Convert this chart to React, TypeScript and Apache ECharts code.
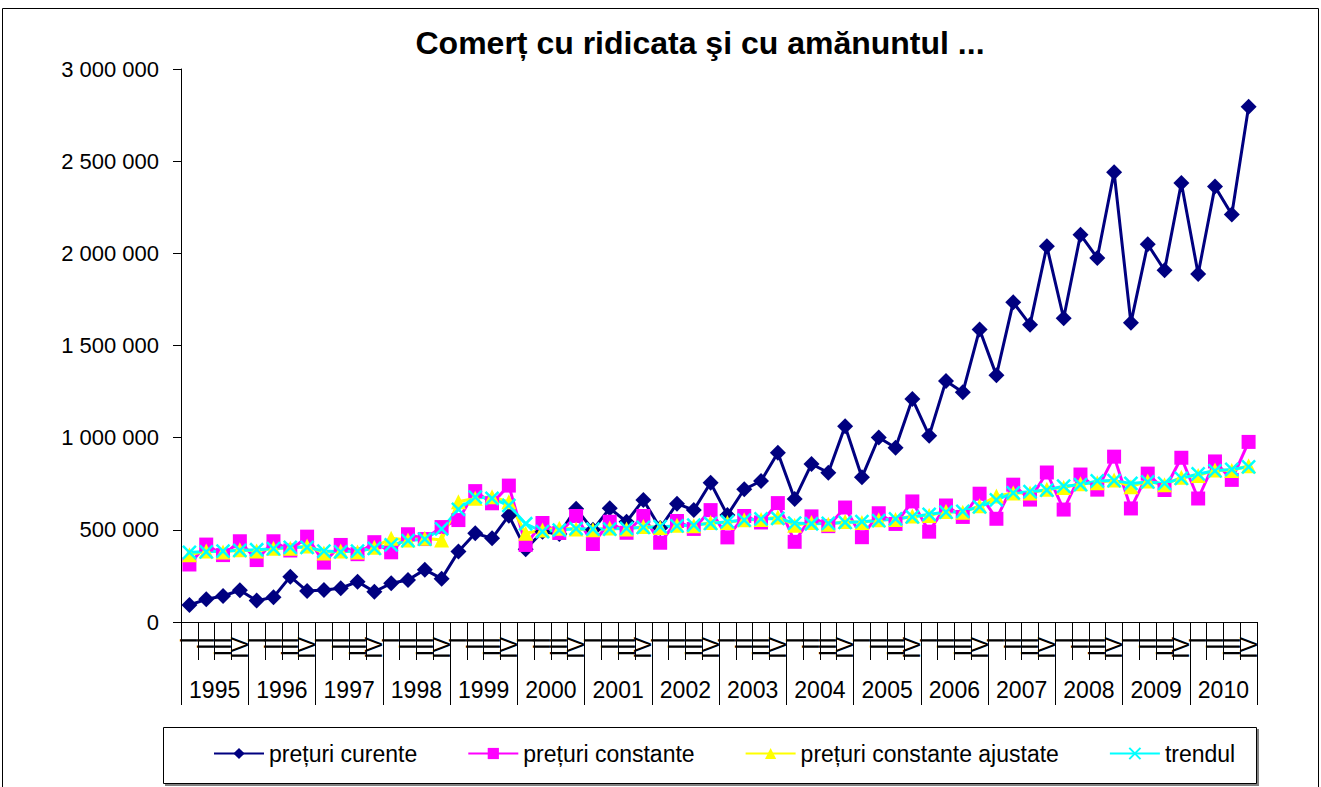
import React, { useEffect, useRef } from "react";
import * as echarts from "echarts";

const years = ["1995","1996","1997","1998","1999","2000","2001","2002","2003","2004","2005","2006","2007","2008","2009","2010"];
const quarterNames = ["I", "II", "III", "IV"];

// values in thousands (lei)
const preturiCurente = [
  92,123,141,172, 116,134,246,168, 174,183,219,164, 210,228,284,235,
  382,481,454,577, 395,490,478,615, 500,617,544,662, 510,642,607,755,
  580,720,765,918, 667,857,810,1062, 785,1001,945,1210, 1011,1308,1246,1587,
  1338,1734,1613,2038, 1648,2101,1975,2440, 1623,2049,1908,2382, 1888,2362,2211,2795,
];
const preturiConstante = [
  312,420,363,438, 336,438,388,463, 322,418,368,433, 378,476,450,515,
  553,710,644,740, 418,537,483,575, 423,544,484,575, 430,548,505,607,
  459,575,540,645, 435,573,520,621, 460,590,532,654, 490,632,570,696,
  560,745,664,811, 610,800,718,897, 616,805,716,891, 670,871,771,977,
];
const preturiConstanteAjustate = [
  365,385,380,392, 385,400,400,412, 375,385,380,405, 454,445,454,445,
  652,671,680,652, 481,499,508,505, 500,510,505,518, 512,525,522,540,
  540,555,556,570, 525,540,530,545, 540,555,556,575, 578,600,595,630,
  683,700,700,720, 730,750,755,770, 734,765,745,785, 795,825,822,848,
];
const trendul = [
  378,381,385,388, 392,398,405,405, 385,381,385,400, 418,441,450,505,
  611,678,671,632, 533,490,499,506, 504,504,508,513, 517,521,526,535,
  544,553,559,562, 537,533,535,540, 544,550,560,570, 584,596,600,625,
  662,700,707,716, 737,745,765,767, 752,760,752,779, 803,820,828,842,
];

const quarterLabels: string[] = years.flatMap(() => quarterNames);
const yTicks = { min: 0, max: 3000000, interval: 500000 };

const FONT = "'Liberation Sans', Arial, sans-serif";

function fmt(v: number) {
  return String(v).replace(/\B(?=(\d{3})+(?!\d))/g, " ");
}

export default function App() {
  const ref = useRef<HTMLDivElement>(null);
  useEffect(() => {
    if (!ref.current) return;
    const chart = echarts.init(ref.current, null, { renderer: "svg" });
    const toUnits = (arr: number[]) => arr.map((v) => v * 1000);
    chart.setOption({
      animation: false,
      backgroundColor: "#ffffff",
      textStyle: { fontFamily: FONT },
      title: {
        text: "Comerț cu ridicata şi cu amănuntul ...",
        left: 700,
        top: 27,
        padding: 0,
        textAlign: "center",
        textStyle: { fontFamily: FONT, fontSize: 32, fontWeight: "bold", color: "#000" },
      },
      graphic: [
        {
          type: "rect",
          shape: { x: 2.5, y: 8.5, width: 1316, height: 800 },
          style: { fill: "none", stroke: "#000", lineWidth: 1 },
          silent: true,
          z: -10,
        },
        {
          type: "rect",
          shape: { x: 165, y: 729, width: 1094, height: 57 },
          style: { fill: "#808080", stroke: "none" },
          silent: true,
          z: -5,
        },
        {
          type: "rect",
          shape: { x: 163.5, y: 727.5, width: 1093, height: 56 },
          style: { fill: "#ffffff", stroke: "#000", lineWidth: 1 },
          silent: true,
          z: -4,
        },
      ],
      legend: {
        left: 213,
        top: 742,
        itemWidth: 50,
        itemHeight: 14,
        itemGap: 50,
        padding: 0,
        textStyle: { fontFamily: FONT, fontSize: 23, color: "#000" },
        data: ["prețuri curente", "prețuri constante", "prețuri constante ajustate", "trendul"],
      },
      grid: { left: 181, right: 64, top: 69, bottom: 165, containLabel: false },
      xAxis: [
        {
          type: "category",
          data: quarterLabels,
          boundaryGap: true,
          position: "bottom",
          axisLine: { show: true, lineStyle: { color: "#000", width: 1 } },
          axisTick: { show: true, interval: 0, length: 38, lineStyle: { color: "#000" } },
          axisLabel: { interval: 0, rotate: 90, fontSize: 23, margin: 15, color: "#000", fontFamily: FONT },
          splitLine: { show: false },
        },
        {
          type: "category",
          data: years,
          boundaryGap: true,
          position: "bottom",
          offset: 35,
          axisLine: { show: false },
          axisTick: { show: true, interval: 0, length: 48, lineStyle: { color: "#000" } },
          axisLabel: { interval: 0, fontSize: 23, margin: 21, color: "#000", fontFamily: FONT },
          splitLine: { show: false },
        },
      ],
      yAxis: {
        type: "value",
        min: yTicks.min,
        max: yTicks.max,
        interval: yTicks.interval,
        axisLine: { show: true, lineStyle: { color: "#000", width: 1 } },
        axisTick: { show: true, length: 8, lineStyle: { color: "#000" } },
        axisLabel: { fontSize: 22, margin: 22, color: "#000", fontFamily: FONT, formatter: (v: number) => fmt(v) },
        splitLine: { show: false },
      },
      series: [
        {
          name: "prețuri curente",
          type: "line",
          xAxisIndex: 0,
          data: toUnits(preturiCurente),
          symbol: "diamond",
          symbolSize: 16,
          color: "#000080",
          lineStyle: { width: 3, color: "#000080" },
          itemStyle: { color: "#000080" },
        },
        {
          name: "prețuri constante",
          type: "line",
          xAxisIndex: 0,
          data: toUnits(preturiConstante),
          symbol: "rect",
          symbolSize: 14,
          color: "#FF00FF",
          lineStyle: { width: 3, color: "#FF00FF" },
          itemStyle: { color: "#FF00FF" },
        },
        {
          name: "prețuri constante ajustate",
          type: "line",
          xAxisIndex: 0,
          data: toUnits(preturiConstanteAjustate),
          symbol: "triangle",
          symbolSize: 15,
          color: "#FFFF00",
          lineStyle: { width: 3, color: "#FFFF00" },
          itemStyle: { color: "#FFFF00" },
        },
        {
          name: "trendul",
          type: "line",
          xAxisIndex: 0,
          data: toUnits(trendul),
          symbol: "path://M0,0L10,10M10,0L0,10",
          symbolSize: 13,
          color: "#00FFFF",
          lineStyle: { width: 3, color: "#00FFFF" },
          itemStyle: { color: "none", borderColor: "#00FFFF", borderWidth: 2.5 },
        },
      ],
    });
    return () => chart.dispose();
  }, []);
  return (
    <div
      ref={ref}
      style={{ position: "absolute", left: 0, top: 0, width: 1321, height: 787, background: "#fff" }}
    />
  );
}
